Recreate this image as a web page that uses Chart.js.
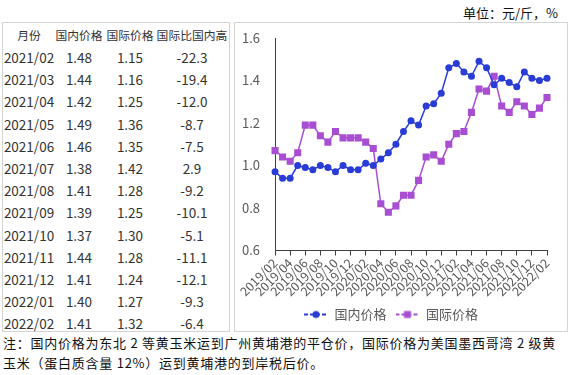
<!DOCTYPE html>
<html>
<head>
<meta charset="utf-8">
<script src="https://cdn.jsdelivr.net/npm/chart.js@4.4.1/dist/chart.umd.min.js"></script>
<style>
  body { margin: 0; width: 571px; height: 375px; background: #fff; position: relative; overflow: hidden;
         font-family: "Noto Sans CJK SC", "Noto Sans", sans-serif; color: #222; }
  .unit { position: absolute; right: 13px; top: 3px; font-size: 13px; color: #111; }
  .box { position: absolute; border: 1px solid #d4d4d4; box-sizing: border-box; }
  .cell { position: absolute; font-size: 13.5px; text-align: center; line-height: 18px; color: #333; white-space: nowrap; }
  .cell.head { font-size: 11.8px; }
  .note { position: absolute; left: 3px; font-size: 13px; color: #111; letter-spacing: 0.75px; white-space: nowrap; }
</style>
</head>
<body>
<div class="unit">单位：元/斤，%</div>
<div class="box" id="tbl" style="left:2px; top:22px; width:228px; height:310px;"></div>
<div class="box" style="left:234px; top:22px; width:334px; height:310px;">
  <div style="position:absolute; left:0; top:0; width:332px; height:308px;">
    <canvas id="chart"></canvas>
  </div>
</div>
<div class="note" style="top:333px;">注：国内价格为东北 2 等黄玉米运到广州黄埔港的平仓价，国际价格为美国墨西哥湾 2 级黄</div>
<div class="note" style="top:353px;">玉米（蛋白质含量 12%）运到黄埔港的到岸税后价。</div>

<script>
// 表格数据
const tableHeader = ['月份', '国内价格', '国际价格', '国际比国内高'];
const tableMonths = ['2021/02', '2021/03', '2021/04', '2021/05', '2021/06', '2021/07', '2021/08',
                     '2021/09', '2021/10', '2021/11', '2021/12', '2022/01', '2022/02'];
const tableDomestic = ['1.48', '1.44', '1.42', '1.49', '1.46', '1.38', '1.41', '1.39', '1.37', '1.44', '1.41', '1.40', '1.41'];
const tableIntl = ['1.15', '1.16', '1.25', '1.36', '1.35', '1.42', '1.28', '1.25', '1.30', '1.28', '1.24', '1.27', '1.32'];
const tableDiff = ['-22.3', '-19.4', '-12.0', '-8.7', '-7.5', '2.9', '-9.2', '-10.1', '-5.1', '-11.1', '-12.1', '-9.3', '-6.4'];

// 图表数据 (2019/02 - 2022/02)
const months = [
  '2019/02', '2019/03', '2019/04', '2019/05', '2019/06', '2019/07', '2019/08', '2019/09', '2019/10', '2019/11', '2019/12',
  '2020/01', '2020/02', '2020/03', '2020/04', '2020/05', '2020/06', '2020/07', '2020/08', '2020/09', '2020/10', '2020/11', '2020/12',
  '2021/01', '2021/02', '2021/03', '2021/04', '2021/05', '2021/06', '2021/07', '2021/08', '2021/09', '2021/10', '2021/11', '2021/12',
  '2022/01', '2022/02'
];
const domestic = [0.97, 0.94, 0.94, 1.00, 0.99, 0.98, 1.00, 0.99, 0.97, 1.00, 0.98, 0.98, 1.01, 1.00,
                  1.03, 1.06, 1.10, 1.16, 1.21, 1.19, 1.28, 1.29, 1.34, 1.46, 1.48, 1.44, 1.42, 1.49,
                  1.46, 1.38, 1.41, 1.39, 1.37, 1.44, 1.41, 1.40, 1.41];
const international = [1.07, 1.04, 1.02, 1.06, 1.19, 1.19, 1.14, 1.11, 1.16, 1.13, 1.13, 1.13, 1.11, 1.08,
                       0.82, 0.78, 0.81, 0.86, 0.86, 0.93, 1.04, 1.05, 1.02, 1.10, 1.15, 1.16, 1.25, 1.36,
                       1.35, 1.42, 1.28, 1.25, 1.30, 1.28, 1.24, 1.27, 1.32];
const yTicks = [0.6, 0.8, 1.0, 1.2, 1.4, 1.6];

const blue = '#2a3cd6';
const purple = '#a84ed2';

// 画表格
const tbl = document.getElementById('tbl');
const colLeft = [0, 50, 101, 151];
const colWidth = [52, 52, 52, 76];
function addCell(text, col, top, head) {
  const d = document.createElement('div');
  d.className = head ? 'cell head' : 'cell';
  d.style.left = colLeft[col] + 'px';
  d.style.width = colWidth[col] + 'px';
  d.style.top = top + 'px';
  d.textContent = text;
  tbl.appendChild(d);
}
tableHeader.forEach((h, c) => addCell(h, c, 3, true));
tableMonths.forEach((m, i) => {
  const top = 25 + i * 22.2;
  addCell(m, 0, top);
  addCell(tableDomestic[i], 1, top);
  addCell(tableIntl[i], 2, top);
  addCell(tableDiff[i], 3, top);
});

// 图例图标: 线 + 标记
function legendIcon(color, square) {
  const c = document.createElement('canvas');
  c.width = 24; c.height = 10;
  const g = c.getContext('2d');
  g.strokeStyle = color; g.lineWidth = 2;
  g.setLineDash([4, 2]);
  g.beginPath(); g.moveTo(0, 5); g.lineTo(24, 5); g.stroke();
  g.fillStyle = color;
  if (square) g.fillRect(8.5, 1.5, 7, 7);
  else { g.beginPath(); g.arc(12, 5, 3.6, 0, Math.PI * 2); g.fill(); }
  return c;
}
const icons = [legendIcon(blue, false), legendIcon(purple, true)];

Chart.defaults.font.family = '"Noto Sans CJK SC", "Noto Sans", sans-serif';
Chart.defaults.color = '#595959';

new Chart(document.getElementById('chart'), {
  type: 'line',
  data: {
    labels: months,
    datasets: [{
      label: '国内价格',
      data: domestic,
      borderColor: blue,
      backgroundColor: blue,
      borderWidth: 1.5,
      pointStyle: 'circle',
      pointRadius: 3.5,
      pointBorderWidth: 0
    }, {
      label: '国际价格',
      data: international,
      borderColor: purple,
      backgroundColor: purple,
      borderWidth: 1.5,
      pointStyle: 'rect',
      pointRadius: 5,
      pointBorderWidth: 0
    }]
  },
  options: {
    responsive: true,
    maintainAspectRatio: false,
    animation: false,
    layout: { padding: { left: 0, right: 20, top: 15, bottom: 0 } },
    plugins: {
      tooltip: { enabled: false },
      legend: {
        position: 'bottom',
        labels: {
          usePointStyle: true,
          pointStyleWidth: 24,
          padding: 9,
          font: { size: 13 },
          color: '#595959',
          generateLabels: (chart) => Chart.defaults.plugins.legend.labels.generateLabels(chart)
            .map((l, i) => Object.assign(l, { pointStyle: icons[i] }))
        }
      }
    },
    scales: {
      x: {
        offset: false,
        grid: { drawOnChartArea: false, drawTicks: true, tickLength: 5, color: '#404040' },
        border: { color: '#404040', width: 1 },
        ticks: {
          autoSkip: false,
          maxRotation: 45,
          minRotation: 45,
          padding: 0,
          font: { size: 12.5 },
          callback: function (v, i) { return i % 2 === 0 ? this.getLabelForValue(v) : null; }
        }
      },
      y: {
        min: 0.6,
        max: 1.6,
        afterBuildTicks: (axis) => { axis.ticks = yTicks.map(v => ({ value: v })); },
        grid: { display: false },
        border: { color: '#404040', width: 1 },
        ticks: {
          padding: 7,
          font: { size: 13 },
          callback: (v) => v.toFixed(1)
        }
      }
    }
  }
});
</script>
</body>
</html>
